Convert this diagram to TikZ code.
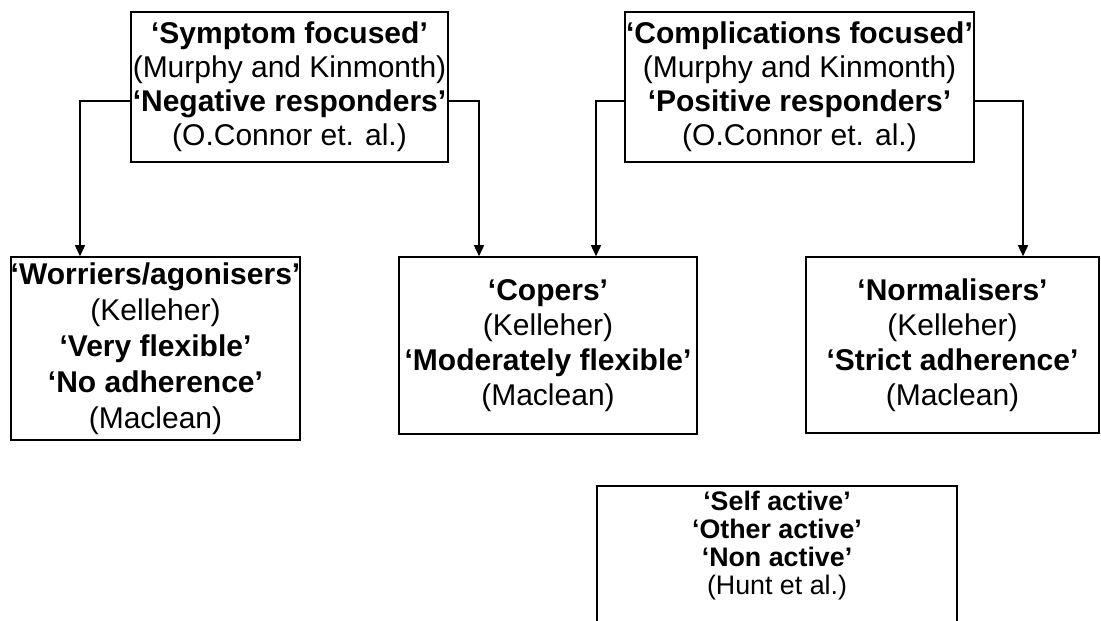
\documentclass[tikz,border=0pt]{standalone}
\usepackage{fontspec}
\setmainfont{Liberation Sans}
\usetikzlibrary{arrows.meta, positioning}

\begin{document}
\begin{tikzpicture}[x=0.5pt, y=-0.5pt, every node/.style={draw, line width=0.8pt, align=center, inner sep=0pt, font=\fontsize{15}{17}\selectfont}, link/.style={line width=0.8pt, -{Triangle[width=5pt,length=5.5pt]}}]
	\useasboundingbox (0,0) rectangle (1101,620);
	\node (A) at (289.5,87) [minimum width=158.5pt, minimum height=75pt] {\textbf{`Symptom focused'}\\(Murphy and Kinmonth)\\\textbf{`Negative responders'}\\(O.Connor et. al.)};
	\node (B) at (799.5,87) [minimum width=174.5pt, minimum height=75pt] {\textbf{`Complications focused'}\\(Murphy and Kinmonth)\\\textbf{`Positive responders'}\\(O.Connor et. al.)};
	\node (W) at (155.5,348.5) [minimum width=144.5pt, minimum height=91.5pt, font=\fontsize{15}{18}\selectfont] {\textbf{`Worriers/agonisers'}\\(Kelleher)\\\textbf{`Very flexible'}\\\textbf{`No adherence'}\\(Maclean)};
	\node (C) at (548,345.5) [minimum width=149pt, minimum height=88.5pt, font=\fontsize{15}{17.5}\selectfont] {\textbf{`Copers'}\\(Kelleher)\\\textbf{`Moderately flexible'}\\(Maclean)};
	\node (N) at (952.5,345) [minimum width=146.5pt, minimum height=88pt, font=\fontsize{15}{17.5}\selectfont] {\textbf{`Normalisers'}\\(Kelleher)\\\textbf{`Strict adherence'}\\(Maclean)};
	\node (H) at (777,485) [anchor=north, minimum width=180pt, inner ysep=2.5pt, text depth=45pt, font=\fontsize{13.4}{14}\selectfont] {\textbf{`Self active'}\\\textbf{`Other active'}\\\textbf{`Non active'}\\(Hunt et al.)};
	\draw[link] ([yshift=-7pt]A.west) -| ([xshift=-37.75pt]W.north);
	\draw[link] ([yshift=-7pt]A.east) -| ([xshift=-34.5pt]C.north);
	\draw[link] ([yshift=-7pt]B.west) -| ([xshift=24pt]C.north);
	\draw[link] ([yshift=-7pt]B.east) -| ([xshift=35.25pt]N.north);
\end{tikzpicture}
\end{document}
